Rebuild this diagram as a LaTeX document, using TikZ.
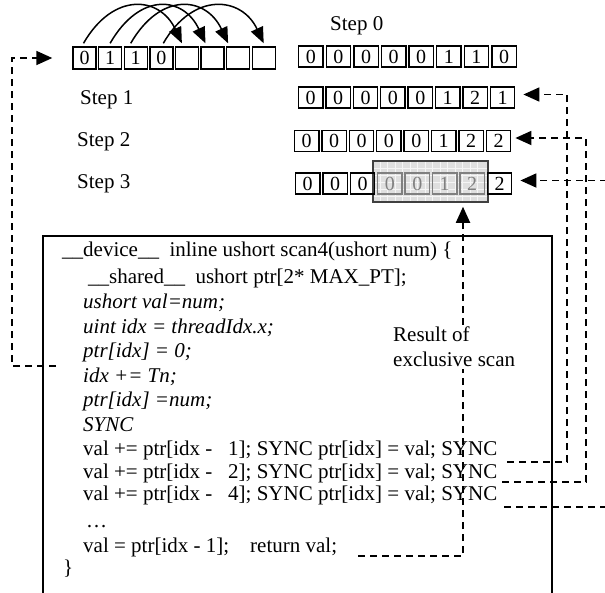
\documentclass[tikz,border=0pt]{standalone}
\usepackage{fontspec}
\setmainfont{Liberation Serif}
\usetikzlibrary{arrows.meta,calc}
\begin{document}
\begin{tikzpicture}[x=1pt,y=-1pt,
  code/.style={font=\fontsize{21}{25}\selectfont, inner sep=0pt, anchor=base west},
  lbl/.style={font=\fontsize{21}{25}\selectfont, inner sep=0pt, anchor=west},
  cellbox/.style={draw, line width=1.4pt, minimum width=24.4pt, minimum height=21pt, inner sep=0pt, font=\fontsize{20}{20}\selectfont},
  topcell/.style={cellbox, minimum width=23pt, minimum height=22pt},
  greycell/.style={cellbox, draw=black!50, text=black!50},
  dashline/.style={line width=1.8pt, dash pattern=on 7pt off 5pt},
  tip/.style={-{Triangle[length=16pt,width=14pt]}},
  arcarrow/.style={line width=1.5pt, -{Triangle[length=16pt,width=13pt]}},
]
\useasboundingbox (0,0) rectangle (605,592);
\clip (0,0) rectangle (605,592);

% top-left array
\foreach \v [count=\i from 0] in {0,1,1,0,{},{},{},{}} {
  \node[topcell] (t\i) at ({71.7+25.6*(\i+0.5)},58) {\v};
}
\draw[arcarrow] ($(t0.north)+(-1,-3)$) .. controls +(30,-52) and +(-22,-47) .. ($(t4.north)+(-5,-3)$);
\draw[arcarrow] ($(t1.north)+(0,-3)$) .. controls +(30,-52) and +(-22,-47) .. ($(t5.north)+(-7,-3)$);
\draw[arcarrow] ($(t2.north)+(-5,-3)$) .. controls +(30,-52) and +(-22,-47) .. ($(t6.north)+(-10,-3)$);
\draw[arcarrow] ($(t3.north)+(2,-3)$) .. controls +(30,-52) and +(-22,-47) .. ($(t7.north)+(0,-3)$);

% step labels
\node[lbl] (s0) at (330,26) {Step 0};
\node[lbl] (s1) at (80,100) {Step 1};
\node[lbl] (s2) at (77,142) {Step 2};
\node[lbl] (s3) at (77,184) {Step 3};

% rows
\foreach \v [count=\i from 0] in {0,0,0,0,0,1,1,0} {
  \node[cellbox] (r0-\i) at ({297+27.6*(\i+0.5)},56.5) {\v};
}
\foreach \v [count=\i from 0] in {0,0,0,0,0,1,2,1} {
  \node[cellbox] (r1-\i) at ({297+27.4*(\i+0.5)},97.5) {\v};
}
\foreach \v [count=\i from 0] in {0,0,0,0,0,1,2,2} {
  \node[cellbox] (r2-\i) at ({293+27.4*(\i+0.5)},141) {\v};
}
\node[draw=black!75, line width=1.5pt, fill=gray!25, minimum width=115pt, minimum height=41pt, inner sep=0pt] (grey) at (430.5,181.5) {};
\draw[gray!8, line width=0.5pt] foreach \gx in {380,387.5,...,484} {(\gx,162) -- (\gx,201)};
\draw[gray!8, line width=0.5pt] foreach \gy in {168,175,...,200} {(374,\gy) -- (487,\gy)};
\foreach \v [count=\i from 0] in {0,0,0} {
  \node[cellbox] (r3-\i) at ({294+27.4*(\i+0.5)},183.5) {\v};
}
\foreach \v [count=\i from 3] in {0,0,1,2} {
  \node[greycell] (r3-\i) at ({294+27.4*(\i+0.5)},183.5) {\v};
}
\node[cellbox] (r3-7) at ({294+27.4*7.5},183.5) {2};

% code box
\node[draw, line width=1.6pt, minimum width=509pt, minimum height=420pt, anchor=north west, inner sep=0pt] (box) at (42,235) {};
\node[code] (l1) at (62,256) {\_\_device\_\_\ \ inline ushort scan4(ushort num) \{};
\node[code] (l2) at (88,283) {\_\_shared\_\_\ \ ushort ptr[2* MAX\_PT];};
\node[code] (l3) at (83,308) {\itshape ushort val=num;};
\node[code] (l4) at (83,333) {\itshape uint idx = threadIdx.x;};
\node[code] (l5) at (83,357) {\itshape ptr[idx] = 0;};
\node[code] (l6) at (83,382) {\itshape idx += Tn;};
\node[code] (l7) at (83,406) {\itshape ptr[idx] =num;};
\node[code] (l8) at (83,431) {\itshape SYNC};
\node[code] (l9) at (83,455) {val += ptr[idx -\ \ \ 1]; SYNC ptr[idx] = val; SYNC};
\node[code] (l10) at (83,478) {val += ptr[idx -\ \ \ 2]; SYNC ptr[idx] = val; SYNC};
\node[code] (l11) at (83,500) {val += ptr[idx -\ \ \ 4]; SYNC ptr[idx] = val; SYNC};
\node[code] (l12) at (86,527) {…};
\node[code] (l13) at (83,552) {val = ptr[idx - 1];\ \ \ \ return val;};
\node[code] (l14) at (63,574) {\}};

% connectors
\coordinate (lS) at (56,366);
\draw[dashline,tip] (lS) -- ++(-44,0) |- ($(t0.west)+(-20,0)$);

\coordinate (aS) at (507,462);
\draw[dashline,tip] (aS) -- ++(60,0) |- ($(r1-7.east)+(8,-3)$);
\coordinate (bS) at (502,482);
\draw[dashline,tip] (bS) -- ++(84,0) |- ($(r2-7.east)+(4,-3)$);
\coordinate (cS) at (504,507);
\draw[dashline,tip] (cS) -- ++(110,0) |- ($(r3-7.east)+(8,-3)$);
\coordinate (dS) at (358,556);
\draw[dashline,tip] (dS) -| ($(grey.south)+(32.5,4)$);

\node[font=\fontsize{21}{25}\selectfont, align=left, fill=white, inner sep=2pt, anchor=north west] (res) at (391,325) {Result of\\exclusive scan};
\end{tikzpicture}
\end{document}
